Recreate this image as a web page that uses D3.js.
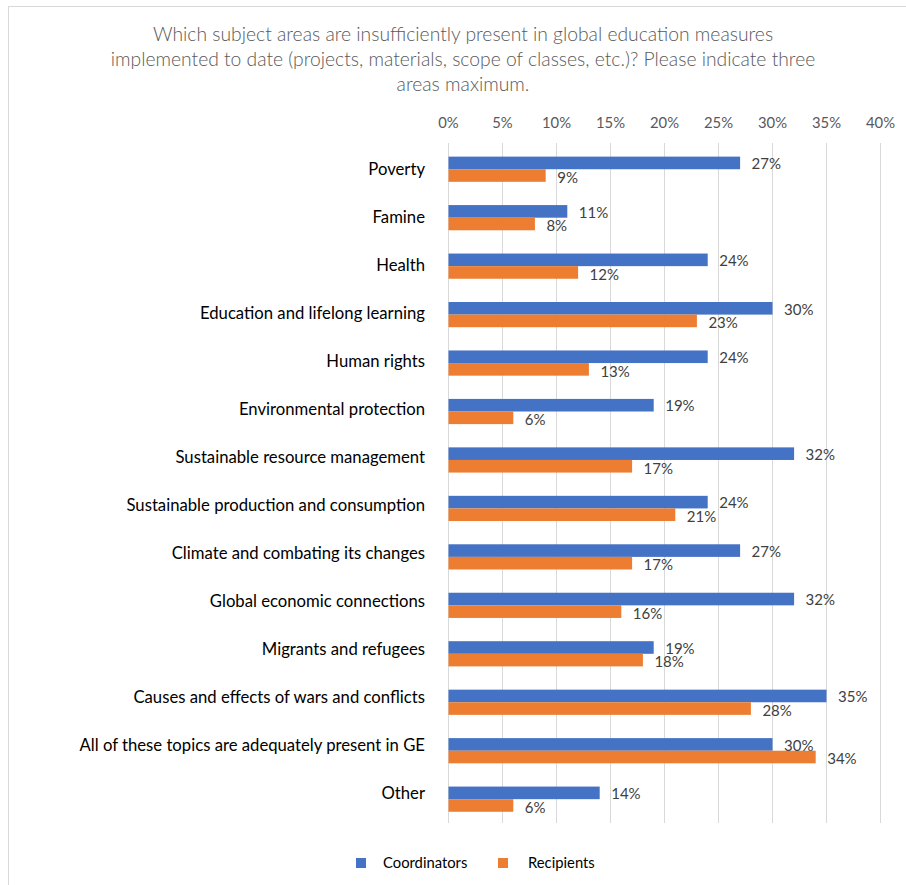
<!DOCTYPE html>
<html>
<head>
<meta charset="utf-8">
<script src="https://cdn.jsdelivr.net/npm/d3@7"></script>
<style>
  body { margin: 0; background: #fff; }
  svg { font-family: Lato, "Open Sans", sans-serif; }
</style>
</head>
<body>
<div id="container"></div>
<script>
var categories = [
  "Poverty", "Famine", "Health", "Education and lifelong learning", "Human rights",
  "Environmental protection", "Sustainable resource management",
  "Sustainable production and consumption", "Climate and combating its changes",
  "Global economic connections", "Migrants and refugees",
  "Causes and effects of wars and conflicts",
  "All of these topics are adequately present in GE", "Other"
];
var coordinators = [27, 11, 24, 30, 24, 19, 32, 24, 27, 32, 19, 35, 30, 14];
var recipients   = [9, 8, 12, 23, 13, 6, 17, 21, 17, 16, 18, 28, 34, 6];
var seriesNames = ["Coordinators", "Recipients"];
var ticks = [0, 5, 10, 15, 20, 25, 30, 35, 40];
var titleLines = [
  "Which subject areas are insufficiently present in global education measures",
  "implemented to date (projects, materials, scope of classes, etc.)? Please indicate three",
  "areas maximum."
];

var W = 906, H = 885;
var colors = ["#4472C4", "#ED7D31"];

var svg = d3.select("#container").append("svg")
    .attr("width", W)
    .attr("height", H);

// chart border
svg.append("rect")
    .attr("x", 8.5).attr("y", 6.5)
    .attr("width", W + 10).attr("height", H + 10)
    .attr("fill", "none")
    .attr("stroke", "#d9d9d9");

svg.append("text")
    .attr("text-anchor", "middle")
    .attr("fill", "#595959")
    .attr("font-size", "19.3px")
    .attr("font-weight", 300)
    .selectAll("tspan")
    .data(titleLines)
    .join("tspan")
    .attr("x", 463)
    .attr("y", function(d, i) { return 41 + i * 25; })
    .text(function(d) { return d; });

var x = d3.scaleLinear()
    .domain([0, 40])
    .range([448, 880]);

var y = d3.scaleBand()
    .domain(categories)
    .range([145, 823.4])
    .paddingInner(0.48)
    .paddingOuter(0.24);

var y2 = d3.scaleBand()
    .domain(seriesNames)
    .range([0, y.bandwidth()]);

// category labels sit on a slightly tighter pitch than the bars
var yLabel = d3.scalePoint()
    .domain(categories)
    .range([169, 793]);

// gridlines
svg.append("g")
    .selectAll("line")
    .data(ticks)
    .join("line")
    .attr("x1", function(d) { return x(d) + 0.5; })
    .attr("x2", function(d) { return x(d) + 0.5; })
    .attr("y1", 143)
    .attr("y2", 823)
    .attr("stroke", "#d9d9d9");

// top axis labels
var xAxis = d3.axisTop(x)
    .tickValues(ticks)
    .tickSize(0)
    .tickPadding(0)
    .tickFormat(function(d) { return d + "%"; });

var gx = svg.append("g")
    .attr("transform", "translate(0,128)")
    .call(xAxis);
gx.select(".domain").remove();
gx.selectAll("text")
    .attr("fill", "#595959")
    .attr("font-size", "14.8px")
    .attr("font-family", "Lato, sans-serif");

svg.append("g")
    .selectAll("text")
    .data(categories)
    .join("text")
    .attr("x", 425)
    .attr("y", function(d) { return yLabel(d); })
    .attr("dy", "0.35em")
    .attr("text-anchor", "end")
    .attr("fill", "#000")
    .attr("font-size", "16.7px")
    .text(function(d) { return d; });

var rows = categories.map(function(c, i) {
  return {cat: c, vals: [coordinators[i], recipients[i]]};
});

var g = svg.append("g")
    .selectAll("g")
    .data(rows)
    .join("g")
    .attr("transform", function(d) { return "translate(0," + y(d.cat) + ")"; });

function pairs(d) {
  return d.vals.map(function(v, j) { return {v: v, s: seriesNames[j], j: j}; });
}

g.selectAll("rect")
    .data(pairs)
    .join("rect")
    .attr("x", x(0) + 0.5)
    .attr("y", function(d) { return y2(d.s); })
    .attr("width", function(d) { return x(d.v) - x(0); })
    .attr("height", y2.bandwidth())
    .attr("fill", function(d) { return colors[d.j]; });

g.selectAll("text")
    .data(pairs)
    .join("text")
    .attr("x", function(d) { return x(d.v) + 12; })
    .attr("y", function(d) { return y2(d.s) + y2.bandwidth() / 2 + (d.j === 0 ? 1 : 2); })
    .attr("dy", "0.35em")
    .attr("fill", "#404040")
    .attr("font-size", "15px")
    .text(function(d) { return d.v + "%"; });

// legend
var legend = svg.append("g")
    .selectAll("g")
    .data(seriesNames)
    .join("g")
    .attr("transform", function(d, i) { return "translate(" + (356 + i * 142) + ",858)"; });

legend.append("rect")
    .attr("width", 10).attr("height", 10)
    .attr("fill", function(d, i) { return colors[i]; });

legend.append("text")
    .attr("x", function(d, i) { return i === 0 ? 27 : 30; })
    .attr("y", 10)
    .attr("fill", "#000")
    .attr("font-size", "14.8px")
    .text(function(d) { return d; });
</script>
</body>
</html>
